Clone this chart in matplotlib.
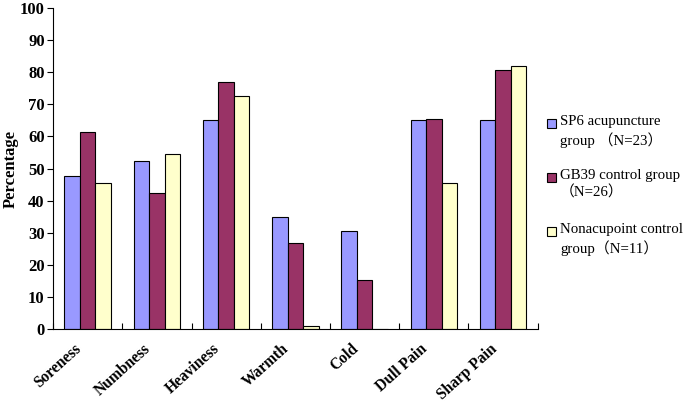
import numpy as np
import matplotlib
matplotlib.use('Agg')
import matplotlib.pyplot as plt
from matplotlib.patches import Rectangle

categories = ['Soreness', 'Numbness', 'Heaviness', 'Warmth', 'Cold', 'Dull Pain', 'Sharp Pain']
sp6 = [47.8, 52.2, 65.2, 34.8, 30.4, 65.2, 65.2]
gb39 = [61.5, 42.3, 76.9, 26.9, 15.4, 65.4, 80.8]
nonacu = [45.5, 54.5, 72.7, 1.0, 0.0, 45.5, 81.8]
labels = ['SP6 acupuncture\ngroup （N=23）', 'GB39 control group\n（N=26）',
          'Nonacupoint control\ngroup（N=11）']
colors = ['#9999FF', '#993366', '#FFFFCC']

serif = ['Liberation Serif', 'Noto Sans CJK SC']

fig = plt.figure(figsize=(6.85, 4.04), dpi=100)
ax = fig.add_axes([0.0774, 0.1856, 0.7076, 0.7944])

x = np.arange(len(categories))
w = 0.223
for i, (vals, c) in enumerate(zip([sp6, gb39, nonacu], colors)):
    ax.bar(x + (i - 1) * w, vals, w, color=c, edgecolor='black', linewidth=0.8)

ax.set_xlim(-0.5, len(categories) - 0.5)
ax.set_ylim(0, 100)
ax.set_yticks(range(0, 101, 10))
ax.set_xticks(np.arange(len(categories) + 1) - 0.5)
ax.set_xticklabels([])
ax.tick_params(axis='x', direction='in', length=4, width=0.8)
ax.tick_params(axis='y', direction='out', length=4, width=0.8, pad=2)
for s in ['top', 'right']:
    ax.spines[s].set_visible(False)
for s in ['left', 'bottom']:
    ax.spines[s].set_linewidth(0.8)

for lbl in ax.get_yticklabels():
    lbl.set_fontfamily(serif)
    lbl.set_fontweight('bold')
    lbl.set_fontsize(12)

for i, cat in enumerate(categories):
    ax.text(i - 0.12, -5.5, cat, rotation=42, ha='right', va='center', rotation_mode='anchor',
            fontfamily=serif, fontweight='bold', fontsize=11.2)

ax.set_ylabel('Percentage', fontfamily=serif, fontweight='bold', fontsize=12)
ax.yaxis.set_label_coords(-0.07, 0.5)

# legend, handle lined up with the first line of each entry
lx, ly0, dy = 547 / 685, 1 - 123 / 404, 54 / 404
for k, (lab, c) in enumerate(zip(labels, colors)):
    y = ly0 - k * dy
    fig.patches.append(Rectangle((lx, y - 4.5 / 404), 9 / 685, 9 / 404, transform=fig.transFigure,
                                 facecolor=c, edgecolor='black', linewidth=0.8))
    fig.text(lx + 13 / 685, y + 8 / 404, lab, ha='left', va='top', fontfamily=serif,
             fontsize=10.7, linespacing=1.3)

plt.savefig('out.png', dpi=100)
